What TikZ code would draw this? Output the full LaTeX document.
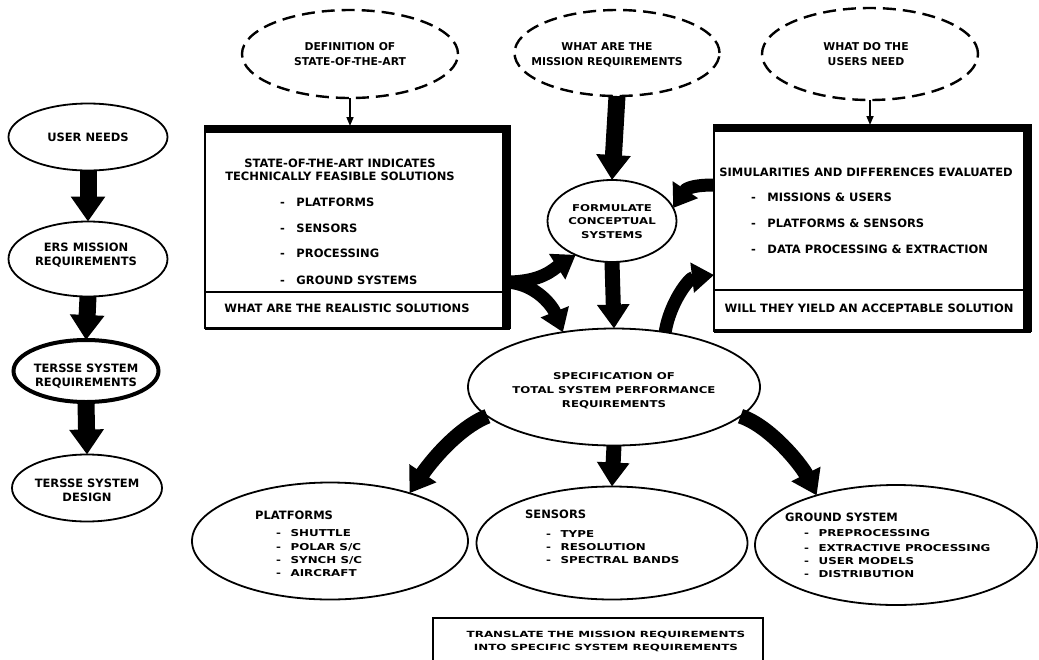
\documentclass[tikz,border=0pt]{standalone}
\usepackage{fontspec}
\setmainfont{DejaVu Sans}
\newfontfamily\widefont[FakeStretch=1.25]{DejaVu Sans}
\newfontfamily\xwidefont[FakeStretch=1.4]{DejaVu Sans}
\usetikzlibrary{shapes.geometric,arrows.meta,calc}
\begin{document}
\begin{tikzpicture}[x=1pt,y=-1pt,
  shp/.style={ellipse, draw, line width=1.8pt, inner sep=0pt, outer sep=0pt},
  dsh/.style={ellipse, draw, line width=2.4pt, dash pattern=on 13pt off 7pt, inner sep=0pt, outer sep=0pt},
  lab/.style={align=center, inner sep=0pt, font=\bfseries\fontsize{11.5}{14}\selectfont},
  blab/.style={align=center, inner sep=0pt, font=\bfseries\fontsize{11.5}{12.5}\selectfont},
  dlab/.style={align=center, inner sep=0pt, font=\bfseries\fontsize{10.8}{15}\selectfont},
  wlab/.style={align=center, inner sep=0pt, font=\widefont\bfseries\fontsize{9.4}{14}\selectfont},
  item/.style={anchor=west, inner sep=0pt, text height=8.4pt, text depth=0pt, font=\bfseries\fontsize{11.5}{13}\selectfont},
  witem/.style={anchor=west, inner sep=0pt, text height=6.9pt, text depth=0pt, font=\widefont\bfseries\fontsize{9.5}{13}\selectfont},
  boxshape/.style={draw, rectangle, line width=2pt, inner sep=0pt, outer sep=0pt},
  bigarrow/.style={line width=17pt, -{Triangle[width=33pt,length=25pt]}},
  curvearrow/.style={line width=13pt, -{Triangle[width=29pt,length=22pt]}},
  widearrow/.style={line width=15pt, -{Triangle[width=31pt,length=24pt]}},
  thinarrow/.style={line width=1.6pt, -{Triangle[width=7pt,length=9pt]}},
]
\useasboundingbox (0,0) rectangle (1039,659);
\fill[white] (0,0) rectangle (1039,659);

% ---- top dashed ellipses
\node[dsh, minimum width=216pt, minimum height=88pt] (d1) at (350,54) {};
\node[dlab] (d1t) at (350,54.5) {DEFINITION OF\\STATE-OF-THE-ART};
\node[dsh, minimum width=205pt, minimum height=86pt] (d2) at (617,53) {};
\node[dlab] (d2t) at (607,54.5) {WHAT ARE THE\\MISSION REQUIREMENTS};
\node[dsh, minimum width=216pt, minimum height=92pt] (d3) at (870,54) {};
\node[dlab] (d3t) at (866,54.5) {WHAT DO THE\\USERS NEED};

% ---- left column
\node[shp, minimum width=159pt, minimum height=67pt] (u1) at (88,137) {};
\node[lab] (u1t) at (88,137) {USER NEEDS};
\node[shp, minimum width=159pt, minimum height=75pt] (u2) at (88,259) {};
\node[lab] (u2t) at (86,255) {ERS MISSION\\REQUIREMENTS};
\node[shp, line width=4pt, minimum width=145pt, minimum height=62pt] (u3) at (86,371) {};
\node[lab] (u3t) at (86,376) {TERSSE SYSTEM\\REQUIREMENTS};
\node[shp, minimum width=150pt, minimum height=67pt] (u4) at (87,488) {};
\node[lab] (u4t) at (87,490) {TERSSE SYSTEM\\DESIGN};

\draw[bigarrow] (u1.south) -- (u2.north);
\draw[bigarrow] (u2.south) -- (u3.north);
\draw[bigarrow] (u3.south) -- (u4.north);

% ---- left box
\node[boxshape, minimum width=305pt, minimum height=202pt] (lbox) at (357.5,227) {};
\fill (lbox.north west) rectangle ($(lbox.north east)+(0,7)$);
\fill ($(lbox.north east)+(-8,0)$) rectangle (lbox.south east);
\draw[line width=2.5pt] ($(lbox.south west)+(0,-36)$) -- ($(lbox.south east)+(0,-36)$);
\draw[line width=3pt] (lbox.south west) -- (lbox.south east);
\node[blab] (lt) at (340,170) {STATE-OF-THE-ART INDICATES\\TECHNICALLY FEASIBLE SOLUTIONS};
\node[item] (l1) at (280,202) {-\quad PLATFORMS};
\node[item] (l2) at (280,228) {-\quad SENSORS};
\node[item] (l3) at (280,253) {-\quad PROCESSING};
\node[item] (l4) at (280,280) {-\quad GROUND SYSTEMS};
\node[item, anchor=center] (lq) at (347,308) {WHAT ARE THE REALISTIC SOLUTIONS};

% ---- right box
\node[boxshape, minimum width=317pt, minimum height=206pt] (rbox) at (872.5,228) {};
\fill (rbox.north west) rectangle ($(rbox.north east)+(0,7)$);
\fill ($(rbox.north east)+(-8,0)$) rectangle (rbox.south east);
\draw[line width=2.5pt] ($(rbox.south west)+(0,-41)$) -- ($(rbox.south east)+(0,-41)$);
\draw[line width=3.5pt] (rbox.south west) -- (rbox.south east);
\node[item, anchor=center] (rt) at (866,172) {SIMULARITIES AND DIFFERENCES EVALUATED};
\node[item] (r1) at (751,197) {-\quad MISSIONS \& USERS};
\node[item] (r2) at (751,223) {-\quad PLATFORMS \& SENSORS};
\node[item] (r3) at (751,249) {-\quad DATA PROCESSING \& EXTRACTION};
\node[item, anchor=center] (rq) at (869,308) {WILL THEY YIELD AN ACCEPTABLE SOLUTION};

\draw[thinarrow] (d1.south) -- (d1.south |- lbox.north);
\draw[thinarrow] (d3.south) -- (d3.south |- rbox.north);

% ---- centre
\node[shp, minimum width=129pt, minimum height=82pt] (form) at (612,221) {};
\node[wlab, font=\widefont\bfseries\fontsize{9.4}{13.5}\selectfont] (formt) at (612,221.5) {FORMULATE\\CONCEPTUAL\\SYSTEMS};
\node[shp, minimum width=292pt, minimum height=117pt] (spec) at (614,387) {};
\node[wlab] (spect) at (614,391) {SPECIFICATION OF\\TOTAL SYSTEM PERFORMANCE\\REQUIREMENTS};

\draw[bigarrow] (d2.south) -- (form.north);
\draw[widearrow] (form.south) -- (spec.north);

\coordinate (forkL) at ($(lbox.east)+(-3,55)$);
\draw[curvearrow] (forkL) .. controls +(35,0) and +(-22,14) .. (form.-137);
\draw[curvearrow] (forkL) .. controls +(30,2) and +(-10,-25) .. (spec.133);
\coordinate (rIn) at ($(rbox.west)+(0,-43)$);
\draw[curvearrow] (rIn) .. controls +(-25,0) and +(12,-18) .. (form.12);
\coordinate (rOut) at ($(rbox.west)+(0,47)$);
\draw[curvearrow] (spec.47) .. controls +(5,-30) and +(-25,3) .. (rOut);

% ---- bottom ellipses
\node[shp, minimum width=276pt, minimum height=117pt] (plat) at (330,541) {};
\node[item] (pt) at (255,515) {PLATFORMS};
\node[witem] (p1) at (276,533) {-\quad SHUTTLE};
\node[witem] (p2) at (276,547) {-\quad POLAR S/C};
\node[witem] (p3) at (276,560) {-\quad SYNCH S/C};
\node[witem] (p4) at (276,573) {-\quad AIRCRAFT};

\node[shp, minimum width=271pt, minimum height=113pt] (sens) at (612,543) {};
\node[item] (st) at (525,514) {SENSORS};
\node[witem] (s1) at (546,534) {-\quad TYPE};
\node[witem] (s2) at (546,547) {-\quad RESOLUTION};
\node[witem] (s3) at (546,560) {-\quad SPECTRAL BANDS};

\node[shp, minimum width=282pt, minimum height=120pt] (gnd) at (896,545) {};
\node[item] (gt) at (785,517) {GROUND SYSTEM};
\node[witem] (g1) at (804,533) {-\quad PREPROCESSING};
\node[witem] (g2) at (804,548) {-\quad EXTRACTIVE PROCESSING};
\node[witem] (g3) at (804,561) {-\quad USER MODELS};
\node[witem] (g4) at (804,574) {-\quad DISTRIBUTION};

\draw[widearrow] (spec.south) -- (sens.north);
\draw[widearrow] (spec.-167) .. controls +(-30,12) and +(20,-30) .. (plat.31);
\draw[widearrow] (spec.-13) .. controls +(30,10) and +(-15,-30) .. (gnd.148);

% ---- bottom box (cut by the page edge)
\begin{scope}
\clip (0,0) rectangle (1039,659);
\node[boxshape, line width=2.5pt, minimum width=330pt, minimum height=54pt] (tbox) at (598,645) {};
\end{scope}
\node[align=center, inner sep=0pt, font=\xwidefont\bfseries\fontsize{8.5}{13}\selectfont] (tt) at (606,641) {TRANSLATE THE MISSION REQUIREMENTS\\INTO SPECIFIC SYSTEM REQUIREMENTS};
\end{tikzpicture}
\end{document}
